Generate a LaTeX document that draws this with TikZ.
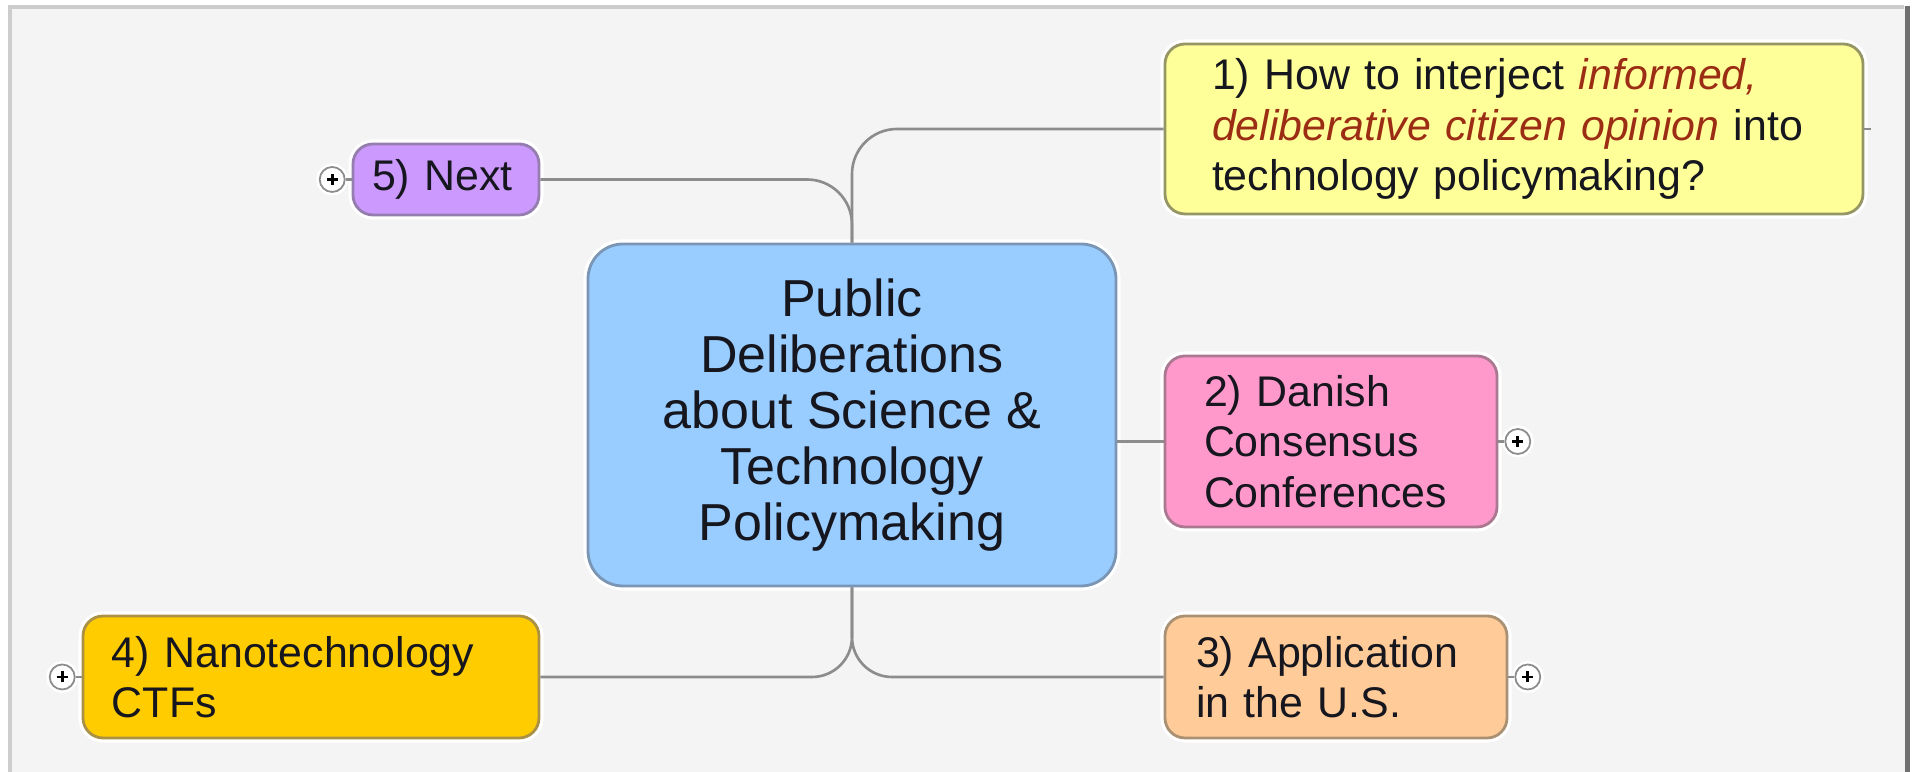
\documentclass[tikz,border=0pt]{standalone}
\usepackage{fontspec}
\setmainfont{Liberation Sans}
\usetikzlibrary{positioning}
\definecolor{paperGrey}{RGB}{244,244,244}
\definecolor{frameGrey}{RGB}{205,205,205}
\definecolor{frameDark}{RGB}{112,112,112}
\definecolor{linkGrey}{RGB}{140,140,140}
\definecolor{inkDark}{RGB}{22,22,30}
\definecolor{emphRed}{RGB}{155,45,20}
\definecolor{hubBlue}{RGB}{153,204,255}
\definecolor{hubEdge}{RGB}{122,150,180}
\definecolor{ideaYellow}{RGB}{255,255,153}
\definecolor{ideaEdge}{RGB}{150,150,100}
\definecolor{danishPink}{RGB}{255,153,204}
\definecolor{danishEdge}{RGB}{170,120,145}
\definecolor{usaPeach}{RGB}{255,204,153}
\definecolor{usaEdge}{RGB}{170,145,115}
\definecolor{nanoGold}{RGB}{255,204,0}
\definecolor{nanoEdge}{RGB}{170,145,70}
\definecolor{nextLilac}{RGB}{204,153,255}
\definecolor{nextEdge}{RGB}{150,125,175}

\tikzset{
  topic/.style={rectangle,rounded corners=0.2cm,line width=0.8pt,align=left,inner ysep=0pt,
    text=inkDark,font=\fontsize{12.2}{14.3}\selectfont,preaction={draw=white,line width=2.6pt}},
  branch/.style={draw=linkGrey,line width=0.75pt},
  expander/.style={circle,draw=linkGrey,fill=white,line width=0.5pt,minimum size=0.25cm,inner sep=0pt,
    preaction={draw=white,line width=2pt},
    path picture={\draw[black,line width=0.8pt] (path picture bounding box.center) +(-0.055,0) -- +(0.055,0)
      (path picture bounding box.center) +(0,-0.055) -- +(0,0.055);}}
}

\begin{document}
\begin{tikzpicture}[x=1cm,y=1cm]
\path[use as bounding box] (0,0) rectangle (19.13,-7.72);
\fill[white] (0,0) rectangle (19.13,-7.72);
\fill[paperGrey] (0.08,-0.06) rectangle (19.06,-7.72);
\draw[frameGrey,line width=0.035cm] (0.1,-7.72) -- (0.1,-0.07) -- (19.04,-0.07);
\draw[frameDark,line width=0.05cm] (19.07,-0.06) -- (19.07,-7.72);

% Central topic
\node[topic,draw=hubEdge,fill=hubBlue,rounded corners=0.35cm,align=center,minimum width=5.28cm,minimum height=3.42cm,
  font=\fontsize{14.8}{15.9}\selectfont] (hub) at (8.52,-4.15) {Public\\Deliberations\\about Science \&\\Technology\\Policymaking};

% Topic 1 - right, top
\node[topic,draw=ideaEdge,fill=ideaYellow,minimum width=6.98cm,minimum height=1.70cm,inner xsep=0.47cm,text width=6.04cm] (interject) at (15.14,-1.29)
  {1) How to interject {\color{emphRed}\itshape informed,}\\{\color{emphRed}\itshape deliberative citizen opinion} into\\technology policymaking?};

% Topic 2 - right, middle
\node[topic,draw=danishEdge,fill=danishPink,minimum width=3.32cm,minimum height=1.71cm,inner xsep=0.39cm,text width=2.54cm] (danish) at (13.31,-4.415)
  {2) Danish\\Consensus\\Conferences};

% Topic 3 - right, bottom
\node[topic,draw=usaEdge,fill=usaPeach,minimum width=3.42cm,minimum height=1.22cm,inner xsep=0.31cm,text width=2.80cm] (usa) at (13.36,-6.77)
  {3) Application\\in the U.S.};

% Topic 4 - left, bottom
\node[topic,draw=nanoEdge,fill=nanoGold,minimum width=4.56cm,minimum height=1.22cm,inner xsep=0.29cm,text width=3.98cm] (nano) at (3.11,-6.77)
  {4) Nanotechnology\\CTFs};

% Topic 5 - left, top
\node[topic,draw=nextEdge,fill=nextLilac,minimum width=1.86cm,minimum height=0.71cm,inner xsep=0.19cm,text width=1.48cm] (next) at (4.46,-1.795)
  {5) Next};

% Branches from the central topic
\draw[branch,rounded corners=0.45cm] (hub.north) |- (interject.west);
\draw[branch,rounded corners=0.45cm] (hub.north) |- (next.east);
\draw[branch] (danish.west -| hub.east) -- (danish.west);
\draw[branch,rounded corners=0.4cm] (hub.south) |- (usa.west);
\draw[branch,rounded corners=0.4cm] (hub.south) |- (nano.east);
\coordinate[right=0.07cm of interject] (interjectEnd);
\draw[branch] (interject.east) -- (interjectEnd);

% Collapsed sub-branches
\node[expander,left=0.06cm of next] (nextPlus) {};
\node[expander,right=0.06cm of danish] (danishPlus) {};
\node[expander,right=0.06cm of usa] (usaPlus) {};
\node[expander,left=0.06cm of nano] (nanoPlus) {};
\draw[branch] (nextPlus) -- (next);
\draw[branch] (danishPlus) -- (danish);
\draw[branch] (usaPlus) -- (usa);
\draw[branch] (nanoPlus) -- (nano);
\end{tikzpicture}
\end{document}
